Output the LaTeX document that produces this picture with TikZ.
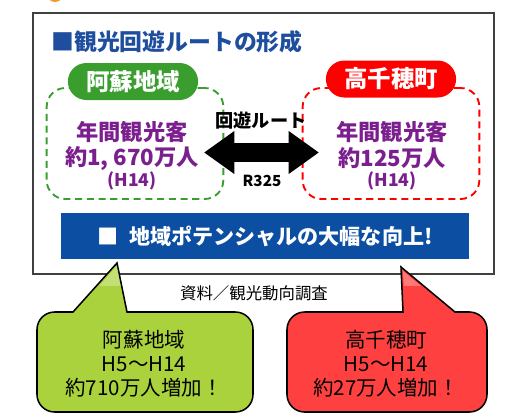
\documentclass[tikz,border=0pt]{standalone}
\usepackage{fontspec}
\setmainfont{Noto Sans CJK JP}
\usepackage{tikz}
\usetikzlibrary{positioning,arrows.meta,shapes.misc}
\definecolor{azultitulo}{RGB}{31,78,158}
\definecolor{azulbarra}{RGB}{11,78,162}
\definecolor{verdeaso}{RGB}{58,158,46}
\definecolor{rojotaka}{RGB}{255,0,0}
\definecolor{morado}{RGB}{123,31,142}
\definecolor{verdeglobo}{RGB}{170,210,60}
\definecolor{rojoglobo}{RGB}{255,64,64}
\definecolor{grismarco}{RGB}{64,64,64}
\definecolor{naranja}{RGB}{245,150,40}

\begin{document}
\begin{tikzpicture}[x=0.03cm, y=-0.03cm,
  marco/.style={draw=grismarco, line width=1.1pt, minimum width=13.83cm,
    minimum height=7.83cm},
  zona/.style={draw=#1, line width=1.6pt, dash pattern=on 6pt off 4pt,
    rounded corners=16pt, minimum width=5.3cm, minimum height=3.33cm},
  pildora/.style={fill=#1, rounded rectangle, minimum width=4.14cm,
    minimum height=1.11cm, text=white,
    font=\bfseries\fontsize{20}{20}\selectfont},
  cifra/.style={text=morado, font=\bfseries\fontsize{19}{19}\selectfont},
  anio/.style={text=morado, font=\bfseries\fontsize{15}{15}\selectfont},
  flecha/.style={{Triangle[length=26pt,width=35pt]}-{Triangle[length=26pt,width=35pt]},
    line width=16pt, draw=black},
  globo/.style={fill=#1, draw=black, line width=1.3pt},
  textoglobo/.style={align=center, font=\fontsize{17.5}{20.5}\selectfont}
]
\useasboundingbox (0,0) rectangle (512,414);
\begin{scope}
  \clip (0,0) rectangle (512,414);
  \fill[naranja] (55,-6) circle (8);
\end{scope}
\node[marco] (marco) at (263.5,143.5) {};
\node[text=azultitulo, font=\bfseries\fontsize{19.5}{19.5}\selectfont] (titulo)
  at (177,42) {■観光回遊ルートの形成};
% zonas
\node[zona=verdeaso] (aso) at (135,143.5) {};
\node[zona=rojotaka] (taka) at (391,143.5) {};
\node[pildora=verdeaso] (asotit) at (133,81.5) {阿蘇地域};
\node[pildora=rojotaka] (takatit) at (391,79) {高千穂町};
\node[cifra] (asoa) at (132,132) {年間観光客};
\node[cifra] (asob) at (132,158) {約1, 670万人};
\node[anio] (asoc) at (132,181) {(H14)};
\node[cifra] (takaa) at (392,132) {年間観光客};
\node[cifra] (takab) at (392,158) {約125万人};
\node[anio] (takac) at (392,181) {(H14)};
% flecha
\coordinate (fi) at (204,152.5);
\coordinate (fd) at (319,152.5);
\draw[flecha] (fi) -- (fd);
\node[font=\bfseries\fontsize{15.5}{15.5}\selectfont] (ruta) at (261,121) {回遊ルート};
\node[font=\bfseries\fontsize{13}{13}\selectfont] (r325) at (262,181) {R325};
\node[fill=azulbarra, text=white, minimum width=12.24cm, minimum height=1.38cm,
  font=\bfseries\fontsize{18}{18}\selectfont] (barra) at (265,236)
  {■\hspace{.5em}地域ポテンシャルの大幅な向上!};
\node[font=\fontsize{14}{14}\selectfont] (fuente) at (254,293) {資料／観光動向調査};
% globos
\draw[globo=verdeglobo] (37,360) [rounded corners=15pt] -- (37,312)
  [sharp corners] -- (73,312) -- (117,263) -- (127,312)
  [rounded corners=15pt] -- (253,312) -- (253,412) -- (37,412) -- cycle;
\draw[globo=rojoglobo] (287,360) [rounded corners=15pt] -- (287,312)
  [sharp corners] -- (403,312) -- (401,267) -- (455,312)
  [rounded corners=15pt] -- (487,312) -- (487,412) -- (287,412) -- cycle;
\begin{scope}
  \clip (0,255) rectangle (512,285);
  \fill[white, opacity=.3] (76,312) -- (117,266) -- (125,312) -- cycle;
  \fill[white, opacity=.3] (405,312) -- (403,271) -- (452,312) -- cycle;
\end{scope}
\node[textoglobo] (asotexto) at (144,364) {阿蘇地域\\H5～H14\\約710万人増加！};
\node[textoglobo] (takatexto) at (386,364) {高千穂町\\H5～H14\\約27万人増加！};
\end{tikzpicture}
\end{document}
